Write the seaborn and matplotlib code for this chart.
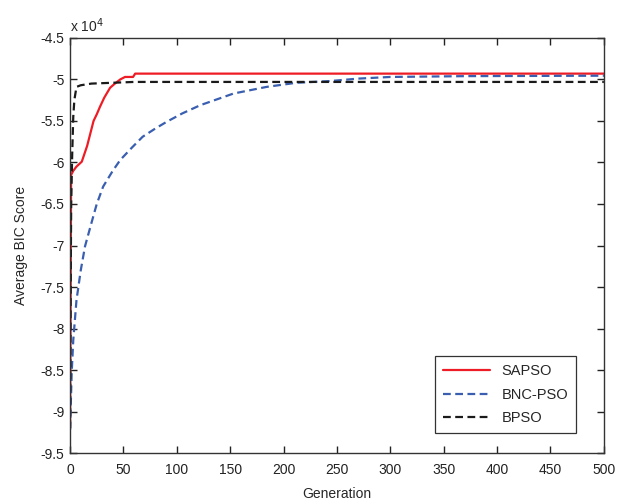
import numpy as np
import pandas as pd
import seaborn as sns
import matplotlib.pyplot as plt

# Average BIC score (x 10^4)
sapso_gen = [0, 1, 3, 6, 11, 16, 22, 25, 28, 32, 37.5, 42, 47, 51.5, 59, 61, 500]
sapso_bic = [-9.2, -6.15, -6.1, -6.05, -5.99, -5.8, -5.5, -5.42, -5.33, -5.22, -5.1, -5.05, -5.0, -4.97, -4.97, -4.93, -4.93]

bnc_gen = [0, 1.5, 3, 6, 10, 14, 20, 25, 31, 40, 47, 58, 68, 80, 90.5, 105, 122, 153, 184, 212, 243, 270, 300, 372, 500]
bnc_bic = [-9.22, -8.54, -8.14, -7.66, -7.3, -7.01, -6.73, -6.5, -6.29, -6.1, -5.97, -5.82, -5.69, -5.59, -5.51, -5.41, -5.31, -5.17, -5.09, -5.04, -5.02, -4.99, -4.97, -4.96, -4.955]

bpso_gen = [0, 1, 2, 3, 4, 6, 10, 20, 60, 500]
bpso_bic = [-9.2, -6.5, -5.9, -5.45, -5.25, -5.09, -5.07, -5.05, -5.03, -5.03]

sns.set_style('ticks')
plt.rcParams['font.family'] = ['Liberation Sans', 'DejaVu Sans']

fig = plt.figure(figsize=(6.2, 4.99), dpi=100)
ax = fig.add_axes([0.113, 0.092, 0.861, 0.832])

sns.lineplot(x=sapso_gen, y=sapso_bic, color='#ee1c25', lw=1.6, label='SAPSO', ax=ax)
sns.lineplot(x=bnc_gen, y=bnc_bic, color='#3a5fb0', lw=1.6, linestyle=(0, (3.5, 2)), label='BNC-PSO', ax=ax)
sns.lineplot(x=bpso_gen, y=bpso_bic, color='#1a1a1a', lw=1.6, linestyle=(0, (3.5, 2)), label='BPSO', ax=ax)

ax.set_xlim(0, 500)
ax.set_ylim(-9.5, -4.5)
ax.set_xticks(np.arange(0, 501, 50))
ax.set_yticks(np.arange(-9.5, -4.4, 0.5))
ax.set_yticklabels(['%g' % v for v in np.arange(-9.5, -4.4, 0.5)])
ax.tick_params(which='major', direction='in', bottom=True, left=True, top=True, right=True,
               length=5, width=1.0, labelsize=10, colors='#222222')
ax.tick_params(axis='x', pad=7)
ax.tick_params(axis='y', pad=4)
for s in ax.spines.values():
    s.set_visible(True)
    s.set_color('#333333')
    s.set_linewidth(1.0)

ax.set_xlabel('Generation', fontsize=10, labelpad=7)
ax.set_ylabel('Average BIC Score', fontsize=10, labelpad=9)
ax.text(0, 1.008, 'x 10$^4$', transform=ax.transAxes, fontsize=10, va='bottom', ha='left')

leg = ax.legend(loc='lower right', bbox_to_anchor=(0.948, 0.048), borderaxespad=0,
                fontsize=10.5, frameon=True, fancybox=False, edgecolor='black',
                handlelength=3.2, borderpad=0.55, labelspacing=0.65)
leg.get_frame().set_linewidth(0.9)

fig.savefig('out.png', dpi=100)
